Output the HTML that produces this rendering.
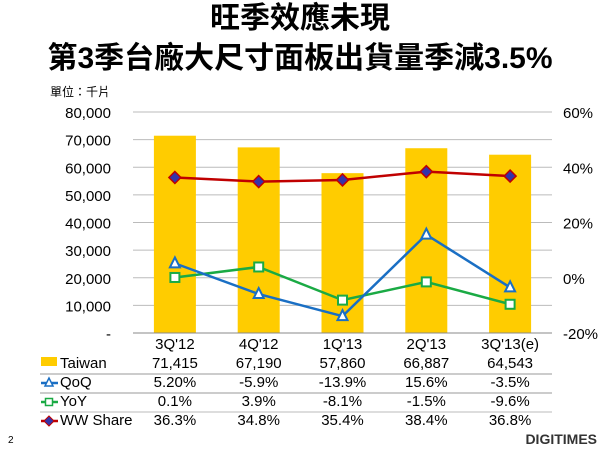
<!DOCTYPE html>
<html><head><meta charset="utf-8"><style>
body{margin:0;width:600px;height:450px;background:#fff;overflow:hidden;font-family:"Liberation Sans","Noto Sans CJK TC",sans-serif;}
.t{position:absolute;left:0;width:600px;text-align:center;font-weight:bold;font-size:30px;line-height:36px;color:#000;font-family:"Liberation Sans","Noto Sans CJK TC",sans-serif;}
</style></head><body>
<div class="t" style="top:1px">旺季效應未現</div>
<div class="t" style="top:41px">第3季台廠大尺寸面板出貨量季減3.5%</div>
<svg id="c" width="600" height="450" style="position:absolute;left:0;top:0"></svg>
<script>
const categories=["3Q'12","4Q'12","1Q'13","2Q'13","3Q'13(e)"];
const taiwan=[71415,67190,57860,66887,64543];
const qoq=[5.2,-5.9,-13.9,15.6,-3.5];
const yoy=[0.1,3.9,-8.1,-1.5,-9.6];
const wwShare=[36.3,34.8,35.4,38.4,36.8];
const leftTicks=[0,10000,20000,30000,40000,50000,60000,70000,80000];
const rightTicks=[-20,0,20,40,60];
const taiwanLabels=["71,415","67,190","57,860","66,887","64,543"];
const qoqLabels=["5.20%","-5.9%","-13.9%","15.6%","-3.5%"];
const yoyLabels=["0.1%","3.9%","-8.1%","-1.5%","-9.6%"];
const wwLabels=["36.3%","34.8%","35.4%","38.4%","36.8%"];
const NS="http://www.w3.org/2000/svg";
const svg=document.getElementById('c');
const X0=133,X1=552,YT=112,YB=333;
const xs=i=>X0+(X1-X0)/categories.length*(i+0.5);
const yl=v=>YB-(v/80000)*(YB-YT);
const yr=v=>YB-((v+20)/80)*(YB-YT);
function mk(t,a,p){const e=document.createElementNS(NS,t);for(const k in a)e.setAttribute(k,a[k]);(p||svg).appendChild(e);return e;}
function tx(s,x,y,anchor,size,fill){const e=mk('text',{x:x,y:y,'text-anchor':anchor||'middle','font-size':size||15,fill:fill||'#000','font-family':'Liberation Sans, Noto Sans CJK TC, sans-serif'});e.textContent=s;return e;}
let u=tx('單位：千片',50,96,'start',12);


leftTicks.forEach(v=>{
  if(v>0){const g=mk('line',{x1:X0,x2:X1,y1:yl(v),y2:yl(v),stroke:'#bbb','stroke-width':1});
  
  }
  const l=tx(v===0?'-':v.toLocaleString('en-US'),111,yl(v)+6,'end',15);
  
  
});
rightTicks.forEach(v=>{
  const l=tx(v+'%',563,yr(v)+6,'start',15);
  
  
});
taiwan.forEach((v,i)=>{
  const b=mk('rect',{x:xs(i)-21,y:yl(v),width:42,height:YB-yl(v),fill:'#ffcc00'});
  
  
});
const ax=mk('line',{x1:X0,x2:X1,y1:YB,y2:YB,stroke:'#888','stroke-width':1});


function series(vals,color,name,marker,mfill,mstroke){
  const pl=mk('polyline',{points:vals.map((v,i)=>xs(i)+','+yr(v)).join(' '),fill:'none',stroke:color,'stroke-width':2.5});
  
  
  vals.forEach((v,i)=>{const x=xs(i),y=yr(v);let m;
    if(marker==='tri')m=mk('polygon',{points:`${x},${y-6} ${x-5},${y+4} ${x+5},${y+4}`,fill:'#fff',stroke:color,'stroke-width':2});
    else if(marker==='sq')m=mk('rect',{x:x-4.5,y:y-4.5,width:9,height:9,fill:'#fff',stroke:color,'stroke-width':2});
    else m=mk('polygon',{points:`${x},${y-6} ${x+6},${y} ${x},${y+6} ${x-6},${y}`,fill:mfill,stroke:mstroke,'stroke-width':1.5});
    
    });
}
series(wwShare,'#c00000','ww-share','dia','#3333aa','#c00000');
series(yoy,'#1aaa44','yoy','sq');
series(qoq,'#1a6fc4','qoq','tri');
categories.forEach((c,i)=>{const l=tx(c,xs(i),349,'middle',15);
  
  });
const rows=[[taiwanLabels,368,'Taiwan'],[qoqLabels,387,'QoQ'],[yoyLabels,406,'YoY'],[wwLabels,425,'WW Share']];
rows.forEach((r,ri)=>{r[0].forEach((s,i)=>{const l=tx(s,xs(i),r[1],'middle',15);
  
  });
  const l=tx(r[2],60,r[1],'start',15);
  
  
  if(ri<3){const s=mk('line',{x1:40,x2:X1,y1:r[1]+6,y2:r[1]+6,stroke:ri==2?'#ddd':'#999','stroke-width':ri==2?2:1});
  
  }
});
const k1=mk('rect',{x:41,y:357,width:16,height:9,fill:'#ffcc00'});


[[383,'#1a6fc4','tri'],[402,'#1aaa44','sq'],[421,'#c00000','dia']].forEach(k=>{
  const y=k[0],x=49;
  mk('line',{x1:41,x2:58,y1:y,y2:y,stroke:k[1],'stroke-width':2.5});
  let m;
  if(k[2]==='tri')m=mk('polygon',{points:`${x},${y-5} ${x-4},${y+3} ${x+4},${y+3}`,fill:'#fff',stroke:k[1],'stroke-width':1.5});
  else if(k[2]==='sq')m=mk('rect',{x:x-3.5,y:y-3.5,width:7,height:7,fill:'#fff',stroke:k[1],'stroke-width':1.5});
  else m=mk('polygon',{points:`${x},${y-5} ${x+5},${y} ${x},${y+5} ${x-5},${y}`,fill:'#3333aa',stroke:'#c00000','stroke-width':1});
  
  
});
const pn=tx('2',8,443,'start',10);


const lg=tx('DIGITIMES',597,444,'end',14,'#333');
lg.setAttribute('font-weight','bold');


</script>
</body></html>
